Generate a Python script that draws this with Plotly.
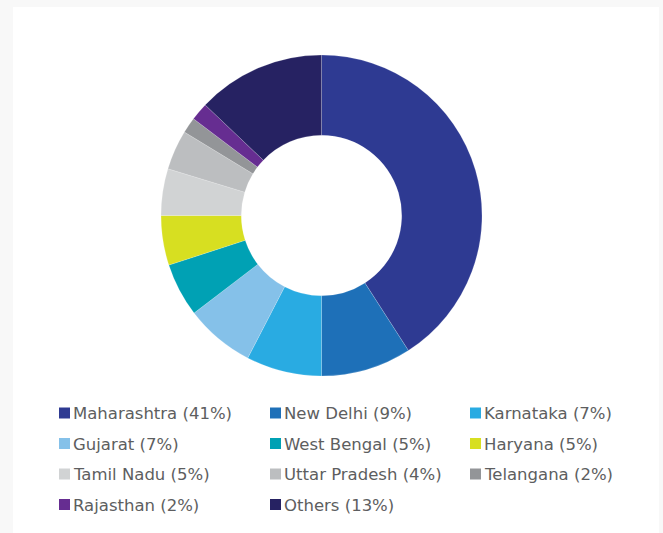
import plotly.graph_objects as go

# ---- data ----
states = ["Maharashtra", "New Delhi", "Karnataka", "Gujarat", "West Bengal",
          "Haryana", "Tamil Nadu", "Uttar Pradesh", "Telangana", "Rajasthan", "Others"]
shares = [40.9, 9.1, 7.6, 7.0, 5.4, 5.0, 4.7, 4.0, 1.6, 1.8, 12.9]
shown_pct = [41, 9, 7, 7, 5, 5, 5, 4, 2, 2, 13]
colors = ["#2e3a92", "#1e70b8", "#29abe2", "#85c1e9", "#00a1b4", "#d7df21",
          "#d1d3d4", "#bcbec0", "#939598", "#662d91", "#262262"]

W, H = 663, 533


def px(x):
    return x / W


def py(y):
    return 1 - y / H


legend_text = [f"{s} ({p}%)" for s, p in zip(states, shown_pct)]

fig = go.Figure(go.Pie(
    labels=legend_text,
    values=shares,
    sort=False,
    direction="clockwise",
    rotation=0,
    hole=0.5,
    textinfo="none",
    hovertemplate="%{label}<extra></extra>",
    marker=dict(colors=colors, line=dict(color="rgba(255,255,255,0.35)", width=0.5)),
    domain=dict(x=[px(161), px(482)], y=[py(376), py(55)]),
    showlegend=False,
))

shapes = [dict(type="rect", xref="paper", yref="paper",
               x0=px(13), x1=px(659), y0=py(545), y1=py(7),
               fillcolor="white", line=dict(width=0), layer="below")]
annotations = []
col_x = [59, 270, 470]
row_y0, row_dy = 413, 30.5
for i, (txt, c) in enumerate(zip(legend_text, colors)):
    r, k = divmod(i, 3)
    x0 = col_x[k]
    yc = row_y0 + r * row_dy
    shapes.append(dict(type="rect", xref="paper", yref="paper",
                       x0=px(x0), x1=px(x0 + 11), y0=py(yc + 5.5), y1=py(yc - 5.5),
                       fillcolor=c, line=dict(width=0)))
    annotations.append(dict(xref="paper", yref="paper", x=px(x0 + 12), y=py(yc + 0.5),
                            xanchor="left", yanchor="middle", showarrow=False,
                            text=txt, font=dict(family="DejaVu Sans", size=16.5, color="#5d5e60")))

fig.update_layout(
    width=W, height=H,
    margin=dict(l=0, r=0, t=0, b=0),
    paper_bgcolor="#f8f8f8",
    plot_bgcolor="#f8f8f8",
    shapes=shapes,
    annotations=annotations,
)

fig.write_html(
    "out.html",
    config={"displayModeBar": False},
    post_script="document.body.style.margin='0';document.body.style.background='#f8f8f8';",
)
